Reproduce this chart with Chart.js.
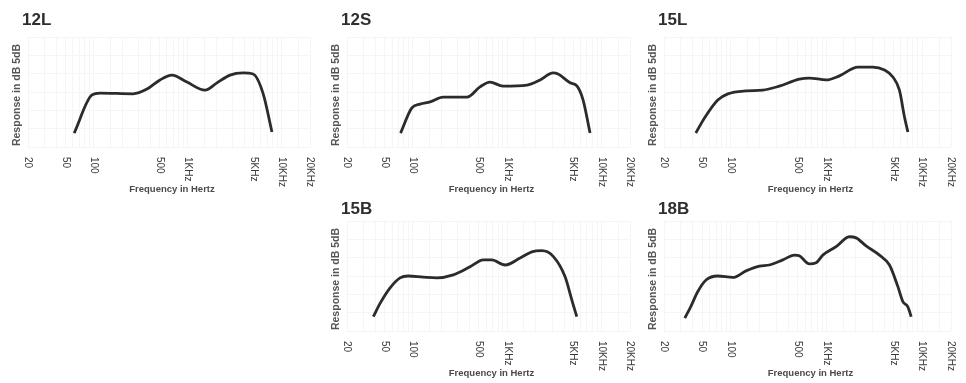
<!DOCTYPE html>
<html>
<head>
<meta charset="utf-8">
<script src="https://cdn.jsdelivr.net/npm/chart.js@4.4.1/dist/chart.umd.min.js"></script>
<style>
  html, body { margin: 0; padding: 0; background: #ffffff; }
  body { width: 966px; height: 383px; position: relative; overflow: hidden; }
  canvas { position: absolute; }
</style>
</head>
<body>
<script>
// ---- Data ----
const tickValues = [20, 50, 100, 500, 1000, 5000, 10000, 20000];
const tickLabels = ['20', '50', '100', '500', '1KHz', '5KHz', '10KHz', '20KHz'];
const xTitle = 'Frequency in Hertz';
const yTitle = 'Response in dB 5dB';

const freq12L = [62, 96, 117, 262, 369, 507, 681, 982, 1528, 2050, 2817, 3877, 4950, 6320, 7880];
const db12L   = [3.8, 14.2, 14.7, 14.5, 15.8, 18.3, 19.6, 17.7, 15.5, 17.5, 19.6, 20.2, 19.9, 14.7, 4.1];

const freq12S = [74, 97, 119, 152, 209, 375, 514, 656, 902, 1623, 2228, 3060, 3457, 4636, 5497, 6367, 7550];
const db12S   = [3.8, 10.6, 11.7, 12.3, 13.6, 13.6, 16.4, 17.7, 16.6, 16.9, 18.3, 20.2, 19.9, 17.5, 16.6, 12.8, 3.8];

const freq15L = [43, 53, 73, 93, 144, 215, 321, 520, 662, 991, 1365, 2124, 3047, 4030, 4935, 5780, 6528, 7085];
const db15L   = [3.8, 7.9, 12.8, 14.5, 15.3, 15.5, 16.6, 18.5, 18.8, 18.3, 19.4, 21.8, 21.8, 21.0, 19.1, 15.5, 8.2, 4.1];

const freq15B = [38, 45, 57, 73, 89, 129, 179, 268, 403, 557, 684, 949, 1367, 1820, 2323, 3083, 4102, 4830, 5457];
const db15B   = [3.9, 7.6, 11.7, 14.5, 15.0, 14.7, 14.5, 15.3, 17.5, 19.4, 19.4, 18.0, 19.9, 21.6, 21.9, 20.3, 14.8, 8.5, 3.9];

const freq18B = [33, 38, 45, 55, 73, 105, 144, 199, 252, 349, 461, 520, 662, 778, 914, 1259, 1734, 2038, 2594, 3575, 4548, 5570, 6283, 7080, 7670];
const db18B   = [3.5, 6.6, 10.7, 13.9, 15.0, 14.6, 16.4, 17.7, 18.0, 19.4, 20.7, 20.5, 18.3, 18.6, 20.7, 23.0, 25.7, 25.4, 23.2, 20.7, 18.0, 12.1, 8.0, 6.6, 3.9];

const panelNames = ['12L', '12S', '15L', '15B', '18B'];

// ---- Layout (positions / styles only) ----
const panels = [
  { name: '12L', freq: freq12L, db: db12L, left: 0,   top: 0,   w: 322, h: 195, pad: { left: 28, right: 12, top: 37, bottom: 48 }, titleDy: -12 },
  { name: '12S', freq: freq12S, db: db12S, left: 322, top: 0,   w: 322, h: 195, pad: { left: 25, right: 14, top: 37, bottom: 48 }, titleDy: -12 },
  { name: '15L', freq: freq15L, db: db15L, left: 644, top: 0,   w: 322, h: 195, pad: { left: 20, right: 15, top: 37, bottom: 48 }, titleDy: -12 },
  { name: '15B', freq: freq15B, db: db15B, left: 322, top: 188, w: 322, h: 195, pad: { left: 25, right: 14, top: 33, bottom: 52 }, titleDy: -7 },
  { name: '18B', freq: freq18B, db: db18B, left: 644, top: 188, w: 322, h: 195, pad: { left: 20, right: 15, top: 33, bottom: 52 }, titleDy: -7 }
];

const FONT = '"Liberation Sans", Arial, Helvetica, sans-serif';

const panelTextPlugin = {
  id: 'panelText',
  afterDraw(chart, args, opts) {
    const ctx = chart.ctx;
    const area = chart.chartArea;
    const xs = chart.scales.x;
    ctx.save();
    // panel title
    ctx.fillStyle = '#2f2f2f';
    ctx.font = 'bold 17px ' + FONT;
    ctx.textAlign = 'left';
    ctx.textBaseline = 'alphabetic';
    ctx.fillText(opts.title, area.left - 6, area.top + opts.titleDy);

    // x tick labels, rotated clockwise (reading top to bottom)
    ctx.fillStyle = '#3a3a3a';
    ctx.font = '10px ' + FONT;
    tickValues.forEach((v, i) => {
      const px = xs.getPixelForValue(v);
      ctx.save();
      ctx.translate(px, area.bottom + 10);
      ctx.rotate(Math.PI / 2);
      ctx.textAlign = 'left';
      ctx.textBaseline = 'middle';
      ctx.fillText(tickLabels[i], 0, 0);
      ctx.restore();
    });

    // x title
    ctx.fillStyle = '#4a4a4a';
    ctx.font = 'bold 9.5px ' + FONT;
    ctx.textAlign = 'center';
    ctx.textBaseline = 'middle';
    ctx.fillText(xTitle, (area.left + area.right) / 2 + 3, area.bottom + 42);

    // y title, rotated counter-clockwise
    ctx.save();
    ctx.translate(area.left - 11, (area.top + area.bottom) / 2 + 3);
    ctx.rotate(-Math.PI / 2);
    ctx.font = 'bold 10.5px ' + FONT;
    ctx.fillStyle = '#555555';
    ctx.textAlign = 'center';
    ctx.textBaseline = 'middle';
    ctx.fillText(yTitle, 0, 0);
    ctx.restore();

    ctx.restore();
  }
};

panels.forEach(p => {
  const c = document.createElement('canvas');
  c.width = p.w; c.height = p.h;
  c.style.left = p.left + 'px';
  c.style.top = p.top + 'px';
  c.style.width = p.w + 'px';
  c.style.height = p.h + 'px';
  document.body.appendChild(c);
  new Chart(c.getContext('2d'), {
    type: 'line',
    data: {
      datasets: [{
        data: p.freq.map((f, i) => ({ x: f, y: p.db[i] })),
        borderColor: '#2b2b2b',
        borderWidth: 2.8,
        pointRadius: 0,
        fill: false,
        cubicInterpolationMode: 'monotone'
      }]
    },
    options: {
      responsive: false,
      animation: false,
      devicePixelRatio: 1,
      layout: { padding: p.pad },
      plugins: {
        legend: { display: false },
        tooltip: { enabled: false },
        panelText: { title: p.name, titleDy: p.titleDy }
      },
      scales: {
        x: {
          type: 'logarithmic',
          min: 20, max: 20000,
          ticks: { display: false },
          grid: { color: '#f5f5f5', drawTicks: false, lineWidth: 1 },
          border: { display: false }
        },
        y: {
          min: 0, max: 30,
          ticks: { display: false, stepSize: 5 },
          grid: { color: '#f5f5f5', drawTicks: false, lineWidth: 1 },
          border: { display: false }
        }
      }
    },
    plugins: [panelTextPlugin]
  });
});
</script>
</body>
</html>
